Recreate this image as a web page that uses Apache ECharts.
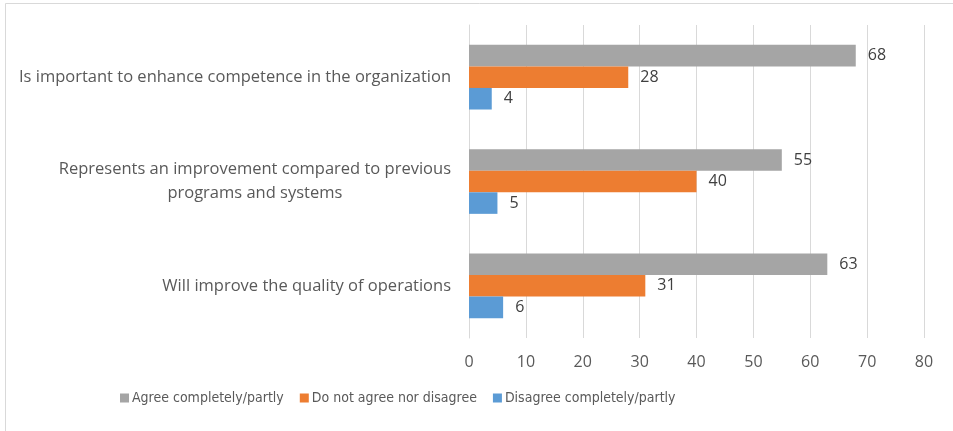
<!DOCTYPE html>
<html>
<head>
<meta charset="utf-8">
<script src="https://cdn.jsdelivr.net/npm/echarts@6/dist/echarts.min.js"></script>
<style>
html,body{margin:0;padding:0;background:#fff;}
#chart{width:953px;height:431px;}
</style>
</head>
<body>
<div id="chart"></div>
<script>
// Categories, bottom to top
const categories = [
  "Will improve the quality of operations",
  "Represents an improvement compared to previous\nprograms and systems",
  "Is important to enhance competence in the organization"
];
const seriesNames = ["Agree completely/partly", "Do not agree nor disagree", "Disagree completely/partly"];
const agreeValues = [63, 55, 68];
const neutralValues = [31, 40, 28];
const disagreeValues = [6, 5, 4];
const xTicks = [0, 10, 20, 30, 40, 50, 60, 70, 80];

const colors = { agree: "#A5A5A5", neutral: "#ED7D31", disagree: "#5B9BD5" };
const font = "'Open Sans', 'Liberation Sans', sans-serif";
const narrowFont = "'Liberation Sans Narrow', 'DejaVu Sans Condensed', 'Open Sans', sans-serif";
const textColor = "#595959";

const chart = echarts.init(document.getElementById('chart'), null, { renderer: 'canvas' });

function barSeries(name, data, color) {
  return {
    name: name,
    type: 'bar',
    data: data,
    barGap: '0%',
    barCategoryGap: '38%',
    itemStyle: { color: color },
    label: {
      show: true,
      position: 'right',
      distance: 12,
      color: '#404040',
      fontFamily: font,
      fontSize: 16
    },
    emphasis: { disabled: true }
  };
}

chart.setOption({
  animation: false,
  backgroundColor: '#ffffff',
  textStyle: { fontFamily: font },
  graphic: [
    { type: 'line', shape: { x1: 5.5, y1: 3.5, x2: 953, y2: 3.5 }, style: { stroke: '#D9D9D9', lineWidth: 1 } },
    { type: 'line', shape: { x1: 5.5, y1: 3.5, x2: 5.5, y2: 431 }, style: { stroke: '#D9D9D9', lineWidth: 1 } }
  ],
  grid: { left: 469, right: 29, top: 25, bottom: 93, containLabel: false },
  legend: {
    data: seriesNames,
    left: 115,
    top: 386,
    itemWidth: 9,
    itemHeight: 9,
    itemGap: 16,
    icon: 'rect',
    textStyle: { color: textColor, fontFamily: narrowFont, fontSize: 14, padding: [0, 0, 0, -2] }
  },
  xAxis: {
    type: 'value',
    min: xTicks[0],
    max: xTicks[xTicks.length - 1],
    interval: 10,
    axisLine: { show: false },
    axisTick: { show: false },
    splitLine: { show: true, lineStyle: { color: '#D9D9D9', width: 1 } },
    axisLabel: { color: textColor, fontFamily: font, fontSize: 16, margin: 16 }
  },
  yAxis: {
    type: 'category',
    data: categories,
    axisLine: { show: true, lineStyle: { color: '#D9D9D9' } },
    axisTick: { show: false },
    axisLabel: {
      margin: 18,
      formatter: function (v) {
        return v.split('\n').map(function (l) { return '{c|' + l + '}'; }).join('\n');
      },
      rich: {
        c: { align: 'center', color: textColor, fontFamily: font, fontSize: 16.5, lineHeight: 24 }
      }
    }
  },
  series: [
    barSeries(seriesNames[0], agreeValues, colors.agree),
    barSeries(seriesNames[1], neutralValues, colors.neutral),
    barSeries(seriesNames[2], disagreeValues, colors.disagree)
  ]
});
</script>
</body>
</html>
